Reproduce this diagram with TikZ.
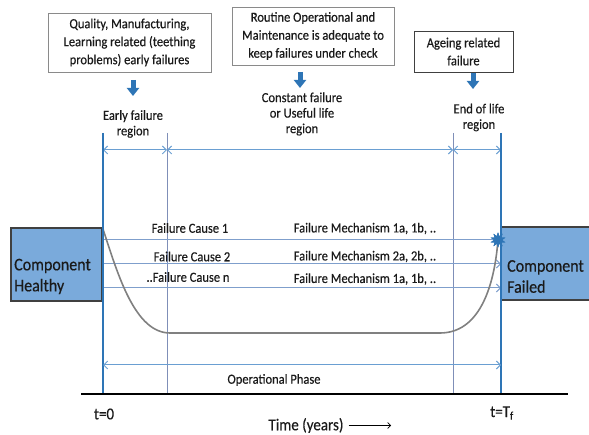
\documentclass[tikz,border=0pt]{standalone}
\usepackage{fontspec}
\setmainfont{Carlito}[FakeStretch=0.9, FakeBold=0.4]
\usetikzlibrary{arrows.meta,shapes.geometric}
\definecolor{thickblue}{HTML}{2E75B6}
\definecolor{innerline}{HTML}{7F8FB8}
\definecolor{dimblue}{HTML}{6A9FD2}
\definecolor{causeline}{HTML}{7F9FCC}
\definecolor{curvegray}{HTML}{808080}
\definecolor{boxfill}{HTML}{7AAADB}
\definecolor{boxedge}{HTML}{404040}
\definecolor{topedge}{HTML}{8A8A8A}
\definecolor{textcol}{HTML}{1A1A1A}
\begin{document}
\begin{tikzpicture}[x=1pt,y=-1pt, every node/.style={text=textcol},
  topbox/.style={draw=topedge, line width=0.9pt, fill=white, align=center, inner sep=0pt, font=\fontsize{13.9}{18}\selectfont},
  lab/.style={align=center, inner sep=0pt, font=\fontsize{13.9}{15.5}\selectfont},
  downarrow/.style={thickblue, line width=5pt, -{Triangle[width=12pt,length=8pt]}},
  outerv/.style={thickblue, line width=1.8pt},
  innerv/.style={innerline, line width=1pt},
  dim/.style={dimblue, line width=1pt, {Straight Barb[length=4pt,width=8pt]}-{Straight Barb[length=4pt,width=8pt]}},
  cause/.style={causeline, line width=1pt},
  causearrow/.style={cause, -{Straight Barb[length=4pt,width=8pt]}},
  txt/.style={inner sep=0pt, font=\fontsize{13.9}{15}\selectfont},
  compbox/.style={draw=boxedge, line width=1.2pt, fill=boxfill, inner sep=0pt},
  comptext/.style={align=left, inner sep=0pt, anchor=west, font=\fontsize{17.8}{21}\selectfont},
  axislabel/.style={inner sep=0pt, font=\fontsize{16.7}{18}\selectfont}
]
\useasboundingbox (0,0) rectangle (589,435);

% top boxes
\node[topbox, minimum width=163pt, minimum height=59pt] (q) at (129.5,42.5)
  {Quality, Manufacturing,\\Learning related (teething\\problems) early failures};
\node[topbox, minimum width=162pt, minimum height=58pt] (r) at (313,36)
  {Routine Operational and\\Maintenance is adequate to\\keep failures under check};
\node[topbox, draw=boxedge, minimum width=99pt, minimum height=41pt] (a) at (463.5,51.5)
  {Ageing related\\failure};

% block arrows
\coordinate (a1s) at (133,80); \coordinate (a1e) at (133,96);
\coordinate (a2s) at (300,72); \coordinate (a2e) at (300,88);
\coordinate (a3s) at (473,73); \coordinate (a3e) at (473,89);
\draw[downarrow] (a1s) -- (a1e);
\draw[downarrow] (a2s) -- (a2e);
\draw[downarrow] (a3s) -- (a3e);

% region labels
\node[lab] (l1) at (133,124) {Early failure\\region};
\node[lab] (l2) at (302,114) {Constant failure\\or Useful life\\region};
\node[lab] (l3) at (479,117.5) {End of life\\region};

% vertical lines
\coordinate (v1t) at (103,133); \coordinate (v1b) at (103,394);
\coordinate (v2t) at (167,133); \coordinate (v2b) at (167,394);
\coordinate (v3t) at (453,133); \coordinate (v3b) at (453,394);
\coordinate (v4t) at (501,133); \coordinate (v4b) at (501,394);
\draw[innerv] (v2t) -- (v2b);
\draw[innerv] (v3t) -- (v3b);

% region dimension arrows
\coordinate (d1) at (103,150); \coordinate (d2) at (167,150);
\coordinate (d3) at (453,150); \coordinate (d4) at (501,150);
\draw[dim] (d1) -- (d2);
\draw[dim] (d2) -- (d3);
\draw[dim] (d3) -- (d4);

% component boxes
\node[compbox, minimum width=91pt, minimum height=73pt] (healthy) at (56.5,264.5) {};
\node[compbox, minimum width=94pt, minimum height=73pt] (failed) at (548,263.5) {};
\node[comptext] (ht) at (14,276.5) {Component\\Healthy};
\node[comptext] (ft) at (507,276.5) {Component\\Failed};

% cause lines
\node[star, star points=10, star point ratio=1.9, fill=thickblue, draw=thickblue, inner sep=0pt, minimum size=14pt] (burst) at (498,240) {};
\coordinate (c1s) at (102,240);
\coordinate (c2s) at (102,264); \coordinate (c2e) at (501,264);
\coordinate (c3s) at (102,288); \coordinate (c3e) at (501,288);
\draw[cause] (c1s) -- (burst.center);
\draw[causearrow] (c2s) -- (c2e);
\draw[causearrow] (c3s) -- (c3e);

\node[txt] (fc1) at (190,228) {Failure Cause 1};
\node[txt] (fc2) at (192,256.5) {Failure Cause 2};
\node[txt] (fcn) at (188,277) {..Failure Cause n};
\node[txt] (fm1) at (365,228.5) {Failure Mechanism 1a, 1b, ..};
\node[txt] (fm2) at (365,256.5) {Failure Mechanism 2a, 2b, ..};
\node[txt] (fm3) at (365,279) {Failure Mechanism 1a, 1b, ..};

% bathtub curve
\coordinate (k0) at (103,229);
\coordinate (k1) at (170,333);
\coordinate (k2) at (440,333);
\draw[curvegray, line width=1.6pt] (k0) .. controls (118,275) and (135,333) .. (k1)
  -- (k2) .. controls (478,333) and (494,290) .. (burst.center);
\node[star, star points=10, star point ratio=1.9, fill=thickblue, draw=thickblue, inner sep=0pt, minimum size=14pt] at (burst.center) {};

% outer verticals on top
\draw[outerv] (v1t) -- (v1b);
\draw[outerv] (v4t) -- (v4b);

% operational phase
\coordinate (o1) at (103,365); \coordinate (o2) at (501,365);
\draw[dim] (o1) -- (o2);
\node[txt] (op) at (274,380) {Operational Phase};

% time axis
\coordinate (ax1) at (81,394); \coordinate (ax2) at (568,394);
\draw[black, line width=1.2pt] (ax1) -- (ax2);
\node[axislabel] (t0) at (104,414) {t=0};
\node[axislabel] (tf) at (502,413) {t=T\textsubscript{f}};
\node[axislabel] (time) at (306,425.5) {Time (years)};
\coordinate (tarr) at (391,425.5);
\draw[black, line width=0.7pt, -{Straight Barb[length=3pt,width=6pt]}] ([xshift=5pt]time.east) -- (tarr);
\end{tikzpicture}
\end{document}
